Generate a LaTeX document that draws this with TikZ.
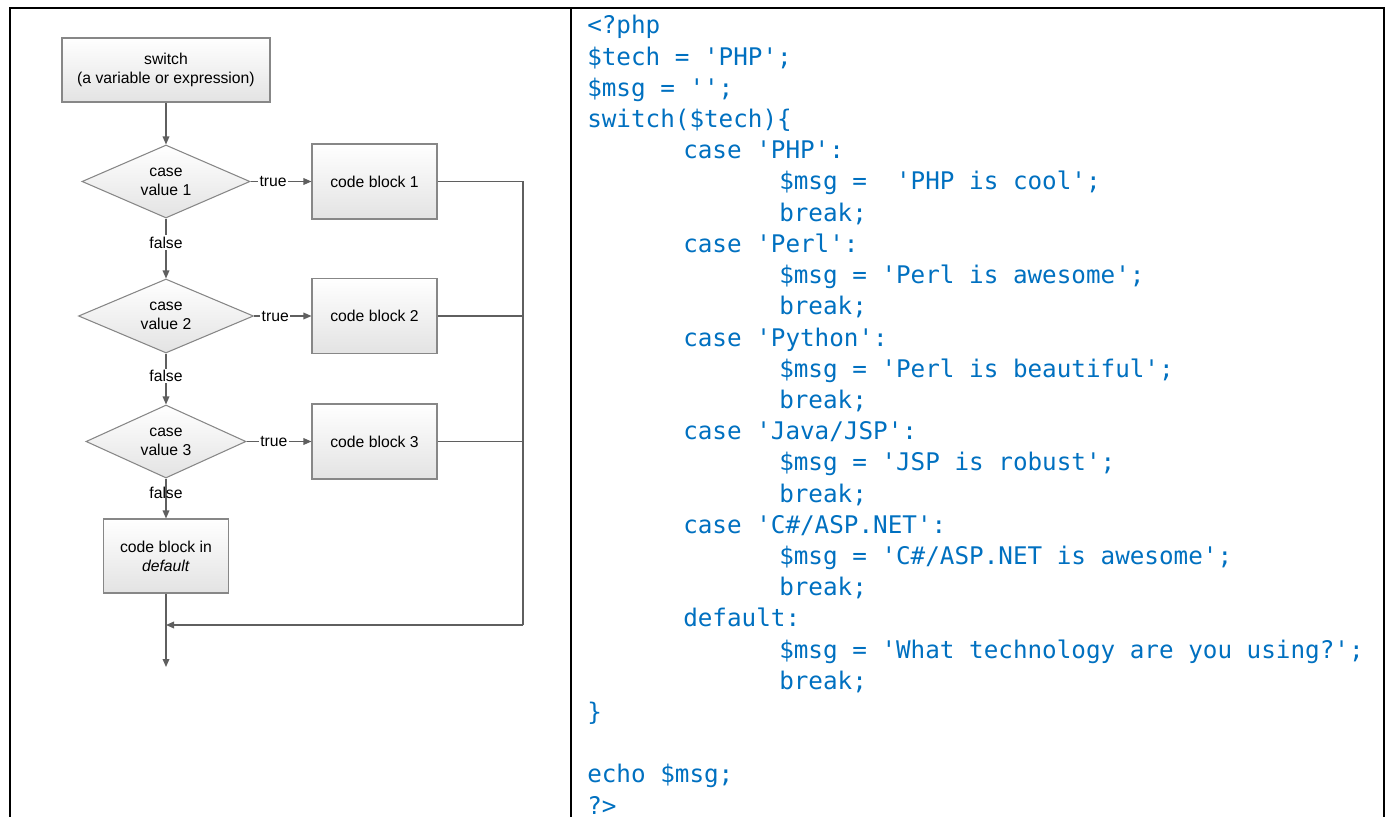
\documentclass[tikz,border=0pt]{standalone}
\usepackage{fontspec}
\setmainfont{Liberation Sans}
\setmonofont{DejaVu Sans Mono}
\usetikzlibrary{arrows.meta,shapes.geometric,calc}

\definecolor{codeblue}{RGB}{0,112,192}
\definecolor{flowline}{RGB}{95,95,95}
\definecolor{boxline}{RGB}{135,135,135}

\tikzset{
  block/.style={rectangle, draw=boxline, line width=0.8pt, top color=white, bottom color=black!11,
    minimum width=93.75pt, minimum height=56.25pt, align=center, inner sep=2pt,
    font=\fontsize{11.8}{14.3}\selectfont},
  decision/.style={diamond, aspect=2.3, draw=boxline, line width=0.8pt, top color=white, bottom color=black!11,
    align=center, inner sep=0pt, font=\fontsize{11.8}{14.3}\selectfont},
  flow/.style={draw=flowline, line width=0.9pt},
  lbl/.style={fill=white, inner sep=1pt, font=\fontsize{11.8}{14.3}\selectfont},
  code/.style={anchor=base west, inner sep=0pt, text=codeblue, font=\ttfamily\fontsize{18.2}{22}\selectfont},
}

% one line of the listing: number, indent level, text
\newcommand\codeline[3]{\node[code] (c#1) at ({587+96*#2},{34+31.2*(#1-1)}) {#3};}

\begin{document}
\begin{tikzpicture}[x=0.75pt, y=-0.75pt, >={Triangle[length=6pt,width=5pt]}]
    \useasboundingbox (0,0) rectangle (1390,817);

    % table frame
    \draw[line width=1.5pt] (10,817) -- (10,8) -- (1384,8) -- (1384,817);
    \draw[line width=1.5pt] (571,8) -- (571,817);

    % flowchart
    \node[block, minimum width=156pt, minimum height=48pt] (sw) at (166,70) {switch\\(a variable or expression)};

    \node[decision, minimum width=126pt, minimum height=54.75pt] (d1) at (166,181.5) {case\\value 1};
    \node[decision, minimum width=131.25pt, minimum height=55.5pt] (d2) at (166,316) {case\\value 2};
    \node[decision, minimum width=120pt, minimum height=54.75pt] (d3) at (166,441.5) {case\\value 3};

    \node[block] (cb1) at (374.5,181.5) {code block 1};
    \node[block] (cb2) at (374.5,316) {code block 2};
    \node[block] (cb3) at (374.5,441.5) {code block 3};
    \node[block, minimum height=55.5pt] (dflt) at (166,556) {code block in\\\textit{default}};

    \coordinate (rail) at (523,625);
    \coordinate (join) at (166,625);
    \coordinate (exit) at (166,667);

    \draw[flow,->] (sw) -- (d1);
    \draw[flow,->] (d1) -- node[lbl, pos=.37] {true} (cb1);
    \draw[flow,->] (d1) -- node[lbl, pos=.4] {false} (d2);
    \draw[flow,->] (d2) -- node[lbl, pos=.37] {true} (cb2);
    \draw[flow,->] (d2) -- node[lbl, pos=.44] {false} (d3);
    \draw[flow,->] (d3) -- node[lbl, pos=.42] {true} (cb3);
    \draw[flow,->] (d3) -- node[lbl, fill=none, pos=.35] {false} (dflt);

    \draw[flow] (cb1) -- (cb1 -| rail) -- (rail);
    \draw[flow] (cb2) -- (cb2 -| rail);
    \draw[flow] (cb3) -- (cb3 -| rail);
    \draw[flow,->] (rail) -- (join);
    \draw[flow,->] (dflt) -- (exit);

    % php listing
    \codeline{1}{0}{<?php}
    \codeline{2}{0}{\$tech = 'PHP';}
    \codeline{3}{0}{\$msg = '';}
    \codeline{4}{0}{switch(\$tech)\{}
    \codeline{5}{1}{case 'PHP':}
    \codeline{6}{2}{\$msg =\ \ 'PHP is cool';}
    \codeline{7}{2}{break;}
    \codeline{8}{1}{case 'Perl':}
    \codeline{9}{2}{\$msg = 'Perl is awesome';}
    \codeline{10}{2}{break;}
    \codeline{11}{1}{case 'Python':}
    \codeline{12}{2}{\$msg = 'Perl is beautiful';}
    \codeline{13}{2}{break;}
    \codeline{14}{1}{case 'Java/JSP':}
    \codeline{15}{2}{\$msg = 'JSP is robust';}
    \codeline{16}{2}{break;}
    \codeline{17}{1}{case 'C\#/ASP.NET':}
    \codeline{18}{2}{\$msg = 'C\#/ASP.NET is awesome';}
    \codeline{19}{2}{break;}
    \codeline{20}{1}{default:}
    \codeline{21}{2}{\$msg = 'What technology are you using?';}
    \codeline{22}{2}{break;}
    \codeline{23}{0}{\}}
    \codeline{25}{0}{echo \$msg;}
    \codeline{26}{0}{?>}
\end{tikzpicture}
\end{document}
